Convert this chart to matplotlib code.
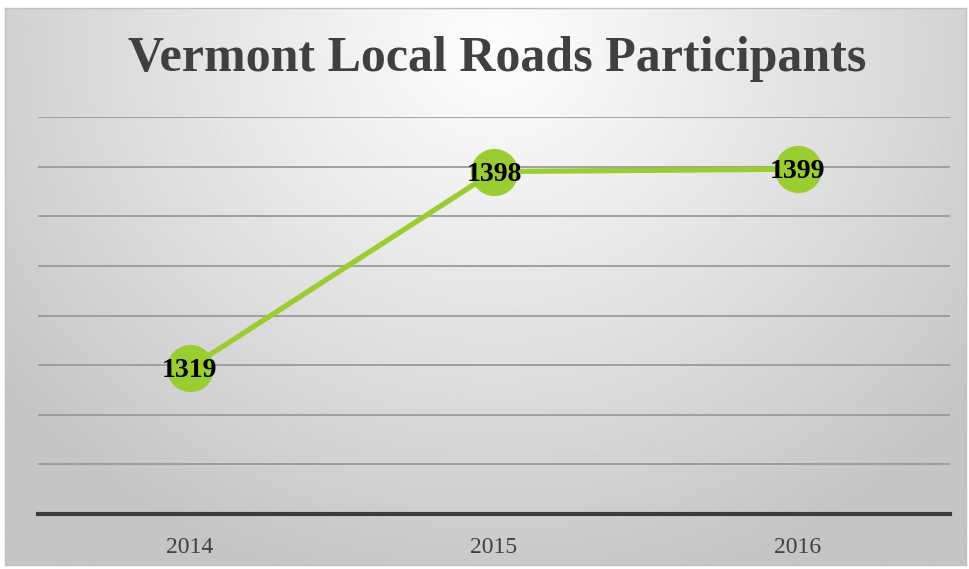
import matplotlib
matplotlib.use('Agg')
import matplotlib.pyplot as plt
import numpy as np

# chart data
years = ['2014', '2015', '2016']
participants = [1319, 1398, 1399]
title = 'Vermont Local Roads Participants'

W, H = 969, 569
fig = plt.figure(figsize=(W / 100, H / 100), dpi=100)
fig.patch.set_facecolor('white')

# radial gradient background panel
bg = fig.add_axes([5 / W, 4 / H, 961 / W, 557 / H])
ny, nx = 300, 500
xx, yy = np.meshgrid(np.linspace(0, 961, nx), np.linspace(0, 557, ny))
cx, cy = 490, 40
r = np.sqrt(((xx - cx) / 620) ** 2 + ((yy - cy) / 560) ** 2)
r = np.clip(r, 0, 1)
shade = 0.99 - 0.22 * r ** 1.1
bg.imshow(shade, cmap='gray', vmin=0, vmax=1, aspect='auto',
          extent=[0, 1, 0, 1], origin='upper')
bg.set_xticks([])
bg.set_yticks([])
for s in bg.spines.values():
    s.set_color('#c0c0c0')
    s.set_linewidth(1)

ax = fig.add_axes([38 / W, 55 / H, 912 / W, 397 / H])
ax.patch.set_alpha(0)
x = np.arange(len(years))
ax.set_xlim(-0.5, len(years) - 0.5)
ax.set_ylim(1260, 1420)
ax.set_yticks(np.arange(1280, 1421, 20))
ax.yaxis.grid(True, color='#9a9a9a', linewidth=1.3)
ax.set_axisbelow(True)
ax.tick_params(axis='y', left=False, labelleft=False)
ax.tick_params(axis='x', bottom=False, pad=13)
for k in ['top', 'right', 'left']:
    ax.spines[k].set_visible(False)
ax.spines['bottom'].set_color('#3c3c3c')
ax.spines['bottom'].set_linewidth(3)
ax.spines['bottom'].set_zorder(5)

ax.set_xticks(x)
ax.set_xticklabels(years, family='Liberation Serif', fontsize=17, color='#404040')

ax.plot(x, participants, color='#9ACD32', linewidth=3.8,
        marker='o', markersize=33, markerfacecolor='#9ACD32',
        markeredgecolor='#9ACD32', zorder=3, clip_on=False)
for xi, v in zip(x, participants):
    ax.annotate(str(v), (xi, v), xytext=(0, -2), textcoords='offset points',
                ha='center', va='center', family='Liberation Serif',
                fontsize=20, fontweight='bold', color='black', zorder=4)

fig.text(0.513, 1 - 59 / H, title, ha='center', va='center',
         family='Liberation Serif', fontsize=36, fontweight='bold', color='#404040')

fig.savefig('out.png', dpi=100)
